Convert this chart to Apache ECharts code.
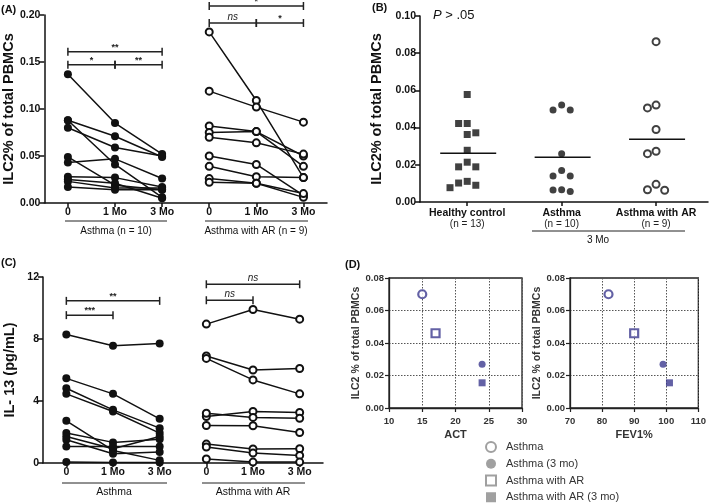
<!DOCTYPE html>
<html><head><meta charset="utf-8">
<script src="https://cdn.jsdelivr.net/npm/echarts@6/dist/echarts.min.js"></script>
<style>html,body{margin:0;padding:0;background:#fff}#c{width:709px;height:503px}</style>
</head><body><div id="c"></div>
<script>
// ---------- data ----------
const timeLabels = ['0', '1 Mo', '3 Mo'];
const groupNames = ['Asthma', 'Asthma with AR'];
const yTicksA = [0, 0.05, 0.10, 0.15, 0.20];
const yTicksB = [0, 0.02, 0.04, 0.06, 0.08, 0.10];
const yTicksC = [0, 4, 8, 12];
const yTicksD = [0, 0.02, 0.04, 0.06, 0.08];
const xTicksACT = [10, 15, 20, 25, 30];
const xTicksFEV = [70, 80, 90, 100, 110];

// Panel A: ILC2% (0, 1 Mo, 3 Mo) per subject
const aAsthma = [
  [0.137, 0.085, 0.052],
  [0.088, 0.071, 0.049],
  [0.088, 0.041, 0.006],
  [0.080, 0.059, 0.050],
  [0.049, 0.019, 0.014],
  [0.043, 0.047, 0.026],
  [0.028, 0.027, 0.017],
  [0.025, 0.021, 0.005],
  [0.023, 0.016, 0.016],
  [0.017, 0.014, 0.014]
];
const aAR = [
  [0.182, 0.109, 0.027],
  [0.119, 0.102, 0.086],
  [0.082, 0.076, 0.050],
  [0.075, 0.076, 0.039],
  [0.070, 0.064, 0.052],
  [0.050, 0.041, 0.008],
  [0.039, 0.028, 0.027],
  [0.026, 0.021, 0.006],
  [0.022, 0.021, 0.010]
];
// Panel B: ILC2% at 3 Mo
const bGroups = ['Healthy control', 'Asthma', 'Asthma with AR'];
const bHealthy = [0.0578, 0.0422, 0.0422, 0.0372, 0.0363, 0.0278, 0.0214, 0.0189, 0.0189, 0.0111, 0.0102, 0.0090, 0.0077];
const bAsthma = [0.0521, 0.0494, 0.0494, 0.0260, 0.0169, 0.0140, 0.0140, 0.0066, 0.0065, 0.0056];
const bAR = [0.0862, 0.0521, 0.0506, 0.0390, 0.0273, 0.0260, 0.0095, 0.0066, 0.0063];
// Panel C: IL-13 (pg/mL)
const cAsthma = [
  [8.29, 7.56, 7.71],
  [5.46, 4.46, 2.85],
  [4.82, 3.43, 2.25],
  [4.46, 3.32, 1.93],
  [2.72, 0.81, 0.17],
  [1.93, 1.33, 1.54],
  [1.71, 0.92, 1.71],
  [1.50, 0.60, 0.71],
  [1.07, 1.07, 1.07],
  [0.06, 0.04, 0.04]
];
const cAR = [
  [8.96, 9.90, 9.28],
  [6.90, 6.00, 6.10],
  [6.75, 5.36, 4.46],
  [3.00, 3.32, 3.26],
  [3.21, 2.94, 2.89],
  [2.42, 2.40, 1.97],
  [1.22, 0.90, 0.92],
  [1.03, 0.64, 0.49],
  [0.26, 0.06, 0.06]
];
// Panel D
const dGroups = ['Asthma', 'Asthma (3 mo)', 'Asthma with AR', 'Asthma with AR (3 mo)'];
const dACT = [15, 24, 17, 24];
const dFEV = [82, 99, 90, 101];
const dILC = [0.070, 0.027, 0.046, 0.0155];
// significance annotations
const sigA = [
  {from: 0, to: 2, y: 0.161, text: '**'},
  {from: 0, to: 1, y: 0.147, text: '*'},
  {from: 1, to: 2, y: 0.147, text: '**'},
  {from: 3, to: 5, y: 0.2096, text: '*'},
  {from: 3, to: 4, y: 0.1915, text: 'ns'},
  {from: 4, to: 5, y: 0.1915, text: '*'}
];
const sigC = [
  {from: 0, to: 2, y: 10.46, text: '**'},
  {from: 0, to: 1, y: 9.54, text: '***'},
  {from: 3, to: 5, y: 11.53, text: 'ns'},
  {from: 3, to: 4, y: 10.5, text: 'ns'}
];

// ---------- helpers ----------
const FONT = 'Liberation Sans, Arial, Helvetica, sans-serif';
const BLACK = '#111';
const BLUE = '#3c3a8e';
const xCats = groupNames.flatMap(g => timeLabels.map(t => g + '|' + t));

function tickRange(t) { return {min: t[0], max: t[t.length - 1], interval: t[1] - t[0]}; }

function pairedSeries(rows, offset, open, xi, yi) {
  return rows.map(r => ({
    type: 'line', xAxisIndex: xi, yAxisIndex: yi,
    data: r.map((v, i) => [i + offset, v]),
    symbol: 'circle', symbolSize: open ? 7 : 8, showSymbol: true,
    lineStyle: {color: BLACK, width: 1.5},
    itemStyle: open ? {color: '#fff', borderColor: BLACK, borderWidth: 2} : {color: BLACK},
    silent: true, z: 3
  }));
}

function bracketSeries(list, xi, yi) {
  return {
    type: 'custom', xAxisIndex: xi, yAxisIndex: yi, clip: false, silent: true, z: 5,
    data: list.map(b => [b.from, b.y]),
    encode: {x: 0, y: 1},
    renderItem: function (params, api) {
      const b = list[params.dataIndex];
      const p1 = api.coord([b.from, b.y]);
      const p2 = api.coord([b.to, b.y]);
      const st = {stroke: '#222', lineWidth: 1.5};
      const ns = b.text === 'ns';
      return {type: 'group', children: [
        {type: 'line', shape: {x1: p1[0], y1: p1[1], x2: p2[0], y2: p2[1]}, style: st},
        {type: 'line', shape: {x1: p1[0], y1: p1[1] - 4, x2: p1[0], y2: p1[1] + 4}, style: st},
        {type: 'line', shape: {x1: p2[0], y1: p2[1] - 4, x2: p2[0], y2: p2[1] + 4}, style: st},
        {type: 'text', style: {text: b.text, x: (p1[0] + p2[0]) / 2, y: p1[1] - (ns ? 1 : 0),
          align: 'center', verticalAlign: 'bottom',
          font: (ns ? 'italic 10px ' : 'bold 9px ') + FONT, fill: '#222'}}
      ]};
    }
  };
}

// beeswarm slots (computed layout, not data)
const B_MIN = -0.5, B_MAX = 2.55, B_WIDTH = 288, B_HEIGHT = 186;
function swarm(vals) {
  const pxY = B_HEIGHT / (yTicksB[yTicksB.length - 1] - yTicksB[0]);
  const unitX = B_WIDTH / (B_MAX - B_MIN);
  const step = 8.6 / unitX, thresh = 10;
  const idx = vals.map((v, i) => i).sort((a, b) => vals[b] - vals[a]);
  const out = new Array(vals.length);
  const placed = [];
  const order = [0, -1, 1, -2, 2, -3, 3];
  idx.forEach(i => {
    for (const k of order) {
      if (!placed.some(p => p.k === k && Math.abs(p.v - vals[i]) * pxY < thresh)) {
        out[i] = k * step; placed.push({k: k, v: vals[i]}); break;
      }
    }
  });
  return out;
}
const bSets = [bHealthy, bAsthma, bAR];
const bSymbols = [
  {symbol: 'rect', symbolSize: 7, itemStyle: {color: BLACK}},
  {symbol: 'circle', symbolSize: 7, itemStyle: {color: BLACK}},
  {symbol: 'circle', symbolSize: 7, itemStyle: {color: '#fff', borderColor: BLACK, borderWidth: 2}}
];
const bMeans = bSets.map(s => s.reduce((a, b) => a + b, 0) / s.length);

// ---------- axes ----------
const tickLabelStyle = {fontWeight: 'bold', fontSize: 10.5, color: BLACK, fontFamily: FONT};
const axisLineStyle = {show: true, onZero: false, lineStyle: {color: BLACK, width: 1.5}};
const axisTickStyle = {show: true, length: 4, lineStyle: {color: BLACK, width: 1.5}};

function pairedX(gi) {
  return {gridIndex: gi, type: 'category', data: xCats, boundaryGap: true,
    axisLine: axisLineStyle, axisTick: Object.assign({alignWithLabel: true, interval: 0}, axisTickStyle),
    axisLabel: Object.assign({interval: 0, margin: 4, formatter: (v, i) => timeLabels[i % timeLabels.length]}, tickLabelStyle),
    splitLine: {show: false}};
}
function valueY(gi, ticks, name, gap, dec) {
  return Object.assign({gridIndex: gi, type: 'value'}, tickRange(ticks), {
    axisLine: axisLineStyle, axisTick: Object.assign({}, axisTickStyle, {length: 5}),
    axisLabel: Object.assign({margin: 4, formatter: v => v.toFixed(dec)}, tickLabelStyle),
    splitLine: {show: false},
    name: name, nameLocation: 'middle', nameGap: gap, nameRotate: 90,
    nameTextStyle: {fontWeight: 'bold', fontSize: 14.5, color: BLACK, fontFamily: FONT}
  });
}
const dotted = {show: true, lineStyle: {type: [1.5, 1.5], color: '#555', width: 1}};
const dLabel = {fontWeight: 'bold', fontSize: 9.5, color: '#333', fontFamily: FONT};
function dX(gi, ticks, name) {
  return Object.assign({gridIndex: gi, type: 'value'}, tickRange(ticks), {
    axisLine: {show: true, onZero: false, lineStyle: {color: '#222', width: 1.3}},
    axisTick: {show: true, length: 4, lineStyle: {color: '#222', width: 1.2}},
    axisLabel: Object.assign({margin: 8}, dLabel), splitLine: dotted,
    name: name, nameLocation: 'middle', nameGap: 21,
    nameTextStyle: {fontWeight: 'bold', fontSize: 11, color: '#333', fontFamily: FONT}
  });
}
function dY(gi, gap) {
  return Object.assign({gridIndex: gi, type: 'value'}, tickRange(yTicksD), {
    axisLine: {show: true, onZero: false, lineStyle: {color: '#222', width: 1.3}},
    axisTick: {show: true, length: 4, lineStyle: {color: '#222', width: 1.2}},
    axisLabel: Object.assign({margin: 5, formatter: v => v.toFixed(2)}, dLabel), splitLine: dotted,
    name: 'ILC2 % of total PBMCs', nameLocation: 'middle', nameGap: gap, nameRotate: 90,
    nameTextStyle: {fontWeight: 'bold', fontSize: 10.5, color: '#333', fontFamily: FONT}
  });
}

// ---------- series ----------
const series = [];
series.push(...pairedSeries(aAsthma, 0, false, 0, 0));
series.push(...pairedSeries(aAR, 3, true, 0, 0));
series.push(bracketSeries(sigA, 0, 0));
series.push(...pairedSeries(cAsthma, 0, false, 2, 2));
series.push(...pairedSeries(cAR, 3, true, 2, 2));
series.push(bracketSeries(sigC, 2, 2));

bSets.forEach((vals, gi) => {
  const jit = swarm(vals);
  series.push(Object.assign({
    type: 'scatter', xAxisIndex: 1, yAxisIndex: 1, silent: true, z: 4,
    data: vals.map((v, i) => [gi + jit[i], v])
  }, bSymbols[gi]));
});
series.push({
  type: 'custom', xAxisIndex: 1, yAxisIndex: 1, silent: true, z: 3,
  data: bMeans.map((m, i) => [i, m]), encode: {x: 0, y: 1},
  renderItem: function (params, api) {
    const p = api.coord([api.value(0), api.value(1)]);
    return {type: 'line', shape: {x1: p[0] - 27, y1: p[1], x2: p[0] + 29, y2: p[1]},
      style: {stroke: BLACK, lineWidth: 1.5}};
  }
});

const dStyles = [
  {symbol: 'circle', symbolSize: 8, itemStyle: {color: '#fff', borderColor: BLUE, borderWidth: 2.2}},
  {symbol: 'circle', symbolSize: 7, itemStyle: {color: BLUE}},
  {symbol: 'rect', symbolSize: 8, itemStyle: {color: '#fff', borderColor: BLUE, borderWidth: 2.2}},
  {symbol: 'rect', symbolSize: 7, itemStyle: {color: BLUE}}
];
dGroups.forEach((g, i) => {
  series.push(Object.assign({type: 'scatter', name: g, xAxisIndex: 3, yAxisIndex: 3, silent: true, z: 4,
    data: [[dACT[i], dILC[i]]]}, dStyles[i]));
  series.push(Object.assign({type: 'scatter', name: g, xAxisIndex: 4, yAxisIndex: 4, silent: true, z: 4,
    data: [[dFEV[i], dILC[i]]]}, dStyles[i]));
});

// ---------- option ----------
const txt = (x, y, text, extra) => ({type: 'text', x: x, y: y, silent: true,
  style: Object.assign({text: text, fill: BLACK, font: '10px ' + FONT}, extra || {})});
const hline = (x1, x2, y) => ({type: 'line', silent: true, shape: {x1: x1, y1: y, x2: x2, y2: y},
  style: {stroke: '#222', lineWidth: 1}});

const option = {
  animation: false,
  backgroundColor: '#fff',
  textStyle: {fontFamily: FONT},
  grid: [
    {left: 43, top: 15, width: 284, height: 188},
    {left: 420, top: 16, width: B_WIDTH, height: B_HEIGHT},
    {left: 43, top: 277, width: 280, height: 186},
    {left: 389, top: 278, width: 133, height: 130, show: true, borderColor: '#222', borderWidth: 1.3, backgroundColor: 'transparent'},
    {left: 570, top: 278, width: 131, height: 130, show: true, borderColor: '#222', borderWidth: 1.3, backgroundColor: 'transparent'}
  ],
  xAxis: [
    pairedX(0),
    {gridIndex: 1, type: 'value', min: B_MIN, max: B_MAX,
      axisLine: axisLineStyle,
      axisTick: Object.assign({customValues: [0, 1, 2]}, axisTickStyle),
      axisLabel: {customValues: [0, 1, 2], margin: 5,
        formatter: v => '{b|' + bGroups[Math.round(v)] + '}\n{n|(n = ' + bSets[Math.round(v)].length + ')}',
        rich: {b: {fontWeight: 'bold', fontSize: 10.5, color: BLACK, fontFamily: FONT, lineHeight: 12},
               n: {fontSize: 10, color: '#222', fontFamily: FONT, lineHeight: 11}}},
      splitLine: {show: false}},
    pairedX(2),
    dX(3, xTicksACT, 'ACT'),
    dX(4, xTicksFEV, 'FEV1%')
  ],
  yAxis: [
    valueY(0, yTicksA, 'ILC2% of total PBMCs', 28, 2),
    valueY(1, yTicksB, 'ILC2% of total PBMCs', 36, 2),
    valueY(2, yTicksC, 'IL- 13 (pg/mL)', 26, 0),
    dY(3, 27),
    dY(4, 22)
  ],
  legend: {
    orient: 'vertical', left: 485, top: 441, padding: 0, itemWidth: 10, itemHeight: 10, itemGap: 5,
    selectedMode: false,
    textStyle: {fontSize: 11, lineHeight: 11.5, color: '#333', fontFamily: FONT, padding: [0, 0, 0, 5]},
    data: dGroups.map((g, i) => ({name: g, icon: i < 2 ? 'circle' : 'rect',
      itemStyle: (i % 2 === 0) ? {color: '#fff', borderColor: '#888', borderWidth: 2} : {color: '#888', borderWidth: 0}}))
  },
  graphic: [
    txt(1, 4, '(A)', {font: 'bold 11px ' + FONT}),
    txt(372, 2, '(B)', {font: 'bold 11px ' + FONT}),
    txt(1, 257, '(C)', {font: 'bold 11px ' + FONT}),
    txt(345, 259, '(D)', {font: 'bold 11px ' + FONT}),
    {type: 'text', x: 433, y: 9, silent: true, style: {text: '{i|P} > .05', fill: BLACK, font: '13px ' + FONT,
      rich: {i: {fontStyle: 'italic', fontSize: 13, fontFamily: FONT, fill: BLACK}}}},
    hline(65, 167, 221), txt(116, 226, groupNames[0] + ' (n = ' + aAsthma.length + ')', {align: 'center'}),
    hline(205, 308, 221), txt(256, 226, groupNames[1] + ' (n = ' + aAR.length + ')', {align: 'center'}),
    hline(532, 685, 231), txt(598, 235, timeLabels[2], {align: 'center'}),
    hline(62, 167, 483), txt(114, 487, groupNames[0], {align: 'center', font: '10.5px ' + FONT}),
    hline(202, 305, 483), txt(253, 487, groupNames[1], {align: 'center', font: '10.5px ' + FONT})
  ],
  series: series
};

const chart = echarts.init(document.getElementById('c'), null, {renderer: 'canvas'});
chart.setOption(option);
</script>
</body></html>
